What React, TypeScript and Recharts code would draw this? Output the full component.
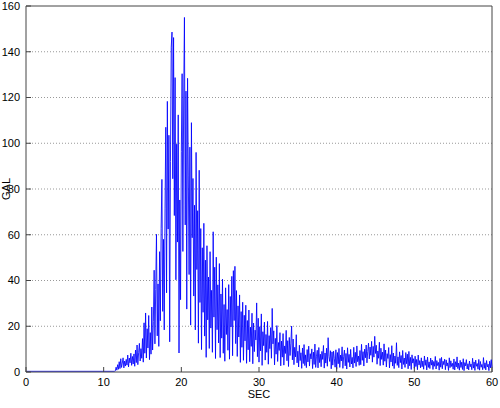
import React from 'react';
import {
  LineChart,
  Line,
  XAxis,
  YAxis,
  CartesianGrid,
  ReferenceLine
} from 'recharts';

// quiet part before the arrival (sec, GAL)
const quietTimes = [0, 11.4];
const quietValues = [0.3, 0.3];

// record after the arrival, one value every 0.1 sec from 11.5 sec
const recordStart = 11.5;
const recordStep = 0.1;
const recordValues = [
  0.5, 2.1, 0.8, 3.2, 1.2,
  4.5, 1.5, 5.8, 2.0, 3.9, 6.2, 1.8, 4.8, 2.6, 5.5,
  3.0, 7.4, 2.2, 6.1, 4.0, 8.2, 2.9, 6.8, 3.5, 7.9,
  2.5, 9.6, 4.1, 11.8, 3.2, 8.4, 12.5, 4.8, 10.2, 6.0,
  14.6, 4.3, 21.5, 8.2, 25.8, 6.1, 18.9, 10.5, 24.7, 5.4,
  17.2, 7.8, 28.4, 9.6, 22.0, 44.5, 12.3, 36.1, 60.2, 15.8,
  38.5, 11.2, 52.6, 22.4, 62.8, 84.2, 26.5, 58.0, 18.4, 71.3,
  107.0, 34.6, 118.3, 62.5, 103.5, 13.2, 92.1, 142.0, 148.6, 84.5,
  146.2, 68.4, 128.7, 40.3, 99.6, 56.8, 112.4, 8.3, 75.2, 31.6,
  96.5, 130.4, 52.7, 118.9, 155.0, 64.3, 122.8, 27.5, 128.4, 86.1,
  42.6, 98.3, 20.5, 109.0, 58.7, 84.6, 33.2, 72.9, 18.4, 96.0,
  44.8, 70.5, 12.6, 88.2, 30.4, 62.7, 9.8, 54.3, 26.1, 65.0,
  15.7, 48.9, 6.4, 55.2, 22.8, 41.5, 10.3, 52.6, 19.2, 35.7,
  8.6, 61.3, 24.0, 45.8, 5.9, 50.2, 18.5, 38.1, 12.7, 47.4,
  6.3, 34.1, 14.8, 40.6, 8.2, 29.5, 4.7, 36.8, 16.4, 27.3,
  9.5, 38.2, 5.6, 33.0, 19.7, 41.8, 7.1, 44.3, 22.5, 46.2,
  12.4, 35.6, 6.8, 28.9, 15.3, 33.7, 4.2, 26.4, 10.8, 30.5,
  5.1, 24.8, 13.6, 29.2, 3.8, 22.5, 9.7, 27.1, 4.5, 19.6,
  11.2, 25.7, 3.6, 21.4, 8.9, 18.3, 14.0, 30.2, 6.7, 23.5,
  4.3, 19.8, 9.2, 25.4, 2.9, 17.6, 11.5, 21.8, 5.2, 16.4,
  8.6, 22.1, 3.4, 15.9, 10.2, 19.4, 6.0, 27.8, 12.3, 18.0,
  3.1, 14.7, 7.8, 20.3, 4.6, 12.9, 9.4, 17.2, 2.7, 13.5,
  6.5, 16.8, 3.0, 11.4, 8.1, 18.2, 4.9, 13.7, 2.4, 15.1,
  7.2, 12.6, 20.1, 5.3, 14.4, 3.2, 10.8, 6.6, 16.3, 4.0,
  9.1, 2.2, 11.7, 5.0, 8.4, 1.6, 10.5, 3.7, 12.0, 2.8,
  7.5, 1.9, 9.8, 4.4, 11.3, 2.6, 8.0, 5.7, 10.1, 1.5,
  8.7, 3.3, 12.2, 2.0, 6.9, 9.5, 1.8, 10.7, 4.1, 7.8,
  2.3, 9.0, 5.5, 11.6, 1.7, 8.3, 3.9, 10.4, 2.5, 15.0,
  6.8, 4.6, 9.3, 1.4, 8.8, 3.0, 9.1, 5.8, 2.1, 9.7,
  1.2, 8.5, 3.6, 10.3, 2.0, 7.4, 4.8, 11.0, 1.6, 6.9,
  9.6, 2.7, 8.1, 1.3, 10.6, 4.2, 7.7, 2.2, 9.9, 3.5,
  6.4, 1.8, 10.8, 3.9, 8.6, 2.4, 11.4, 4.5, 7.0, 2.9,
  9.4, 3.2, 12.1, 5.1, 8.9, 2.6, 10.0, 6.2, 11.8, 4.0,
  9.0, 12.6, 5.7, 10.9, 7.3, 13.4, 4.3, 11.2, 6.5, 15.6,
  8.1, 11.7, 3.4, 9.2, 6.0, 13.0, 2.8, 10.4, 5.5, 8.7,
  3.0, 12.3, 4.7, 9.6, 2.2, 8.0, 5.9, 10.7, 1.8, 7.6,
  4.4, 11.5, 2.6, 8.3, 1.5, 7.0, 3.8, 12.8, 2.9, 6.6,
  1.9, 8.8, 4.1, 7.2, 1.3, 9.4, 3.3, 6.1, 2.0, 8.5,
  3.6, 7.8, 1.4, 9.0, 2.7, 6.4, 1.1, 7.5, 3.9, 5.8,
  1.6, 6.9, 2.4, 5.5, 1.0, 7.4, 3.1, 5.0, 1.8, 6.2,
  2.3, 4.8, 1.2, 7.0, 2.9, 5.3, 0.9, 6.5, 2.0, 4.4,
  1.5, 6.1, 3.0, 5.2, 1.1, 4.6, 2.5, 6.8, 1.3, 5.0,
  2.8, 4.2, 0.8, 5.9, 2.1, 6.4, 1.4, 4.7, 3.2, 5.6,
  1.0, 5.3, 2.6, 4.0, 0.7, 6.2, 1.9, 4.9, 2.4, 3.8,
  1.2, 5.7, 0.9, 4.5, 2.2, 6.6, 1.5, 3.9, 0.8, 5.1,
  2.0, 4.3, 1.1, 5.8, 0.6, 4.1, 2.7, 5.4, 1.3, 3.6,
  0.9, 4.8, 2.3, 3.5, 1.0, 6.0, 1.7, 4.4, 0.7, 5.2,
  2.5, 3.7, 1.2, 5.5, 0.8, 4.6, 2.1, 3.3, 1.0, 6.3,
  1.6, 4.0, 0.9, 5.0, 2.2, 3.4, 0.6, 4.7, 1.8, 5.4,
  2.0
];

const xTicks = [0, 10, 20, 30, 40, 50, 60];
const yTicks = [0, 20, 40, 60, 80, 100, 120, 140, 160];
const gridValues = [20, 40, 60, 80, 100, 120, 140];

const data = [
  ...quietTimes.map((t, i) => ({ t, gal: quietValues[i] })),
  ...recordValues.map((v, i) => ({
    t: Math.round((recordStart + i * recordStep) * 10) / 10,
    gal: v
  }))
];

const axisColor = '#444';
const fontFamily = 'Liberation Sans, Arial, sans-serif';
const tickFont = { fontSize: 11, fill: '#000', fontFamily };

const App = () => {
  return (
    <div style={{ position: 'absolute', left: 0, top: 0, width: 500, height: 408, background: '#fff' }}>
      <LineChart
        width={500}
        height={408}
        data={data}
        margin={{ top: 6, right: 8, left: 0, bottom: 0 }}
      >
        <CartesianGrid
          horizontal={true}
          vertical={false}
          stroke="#999"
          strokeDasharray="1 2"
          horizontalValues={gridValues}
        />
        <XAxis
          dataKey="t"
          type="number"
          domain={[0, 60]}
          ticks={xTicks}
          height={36}
          tickSize={-5}
          tickMargin={11}
          stroke={axisColor}
          tick={tickFont}
          label={{ value: 'SEC', position: 'insideBottom', offset: 10, fontSize: 11, fill: '#000', fontFamily }}
        />
        <YAxis
          type="number"
          domain={[0, 160]}
          ticks={yTicks}
          width={26}
          tickSize={-5}
          tickMargin={11}
          stroke={axisColor}
          tick={tickFont}
          label={{ value: 'GAL', angle: -90, position: 'insideLeft', offset: 6, fontSize: 11, fill: '#000', fontFamily, style: { textAnchor: 'middle' } }}
        />
        <ReferenceLine y={160} stroke={axisColor} />
        <ReferenceLine x={60} stroke={axisColor} />
        <Line
          type="linear"
          dataKey="gal"
          stroke="#0000ff"
          strokeWidth={0.85}
          dot={false}
          isAnimationActive={false}
        />
      </LineChart>
    </div>
  );
};

export default App;
